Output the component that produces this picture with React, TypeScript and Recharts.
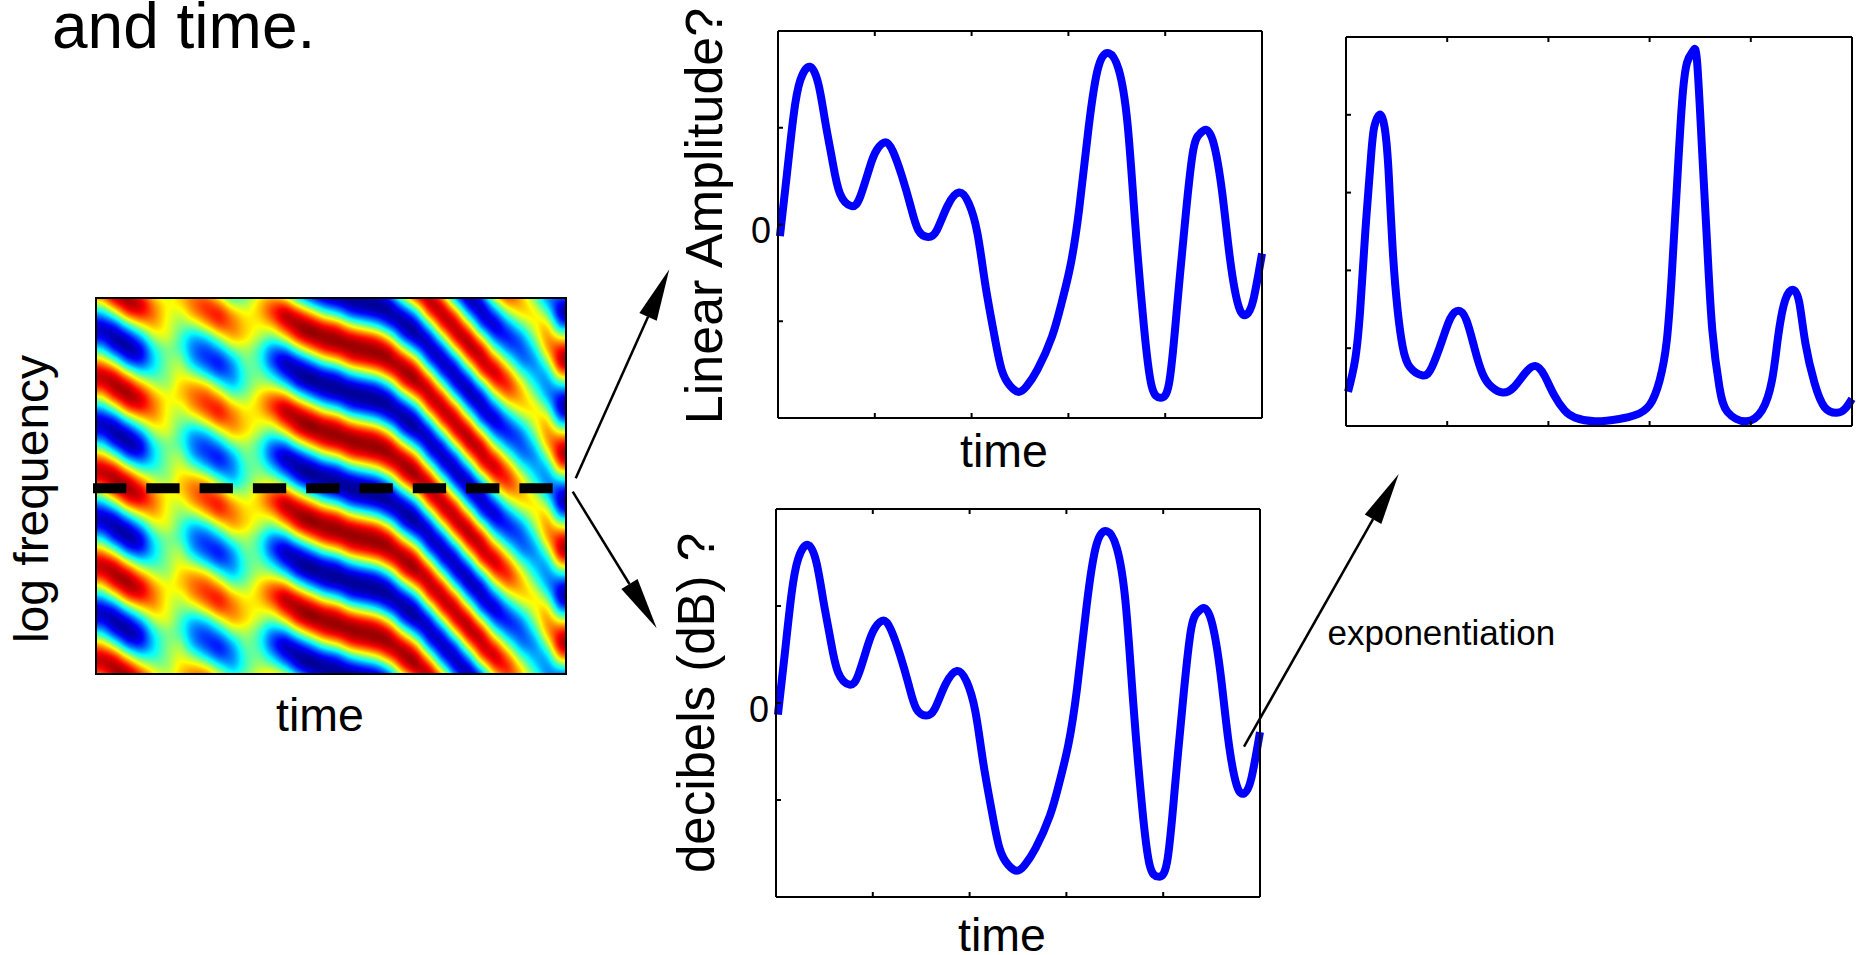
import React from 'react';
import { LineChart, Line, XAxis, YAxis, ScatterChart, Scatter } from 'recharts';

const FONT = '"Liberation Sans", Arial, sans-serif';
const BLUE = '#0000ff';

// Heatmap: one vertical period of the pattern, 8 rows x 36 time columns (scale -10..10)
const heatRow0 = [2,7,10,8,4,2,3,5,6,4,0,0,3,5,5,0,-4,-7,-8,-10,-10,-10,-8,-2,4,10,7,-2,-9,-8,0,5,4,1,-4,-7];
const heatRow1 = [-4,0,6,7,5,2,1,4,6,7,4,2,3,6,9,7,4,0,-2,-6,-7,-8,-10,-8,-4,6,10,6,-4,-10,-6,0,3,3,0,-9];
const heatRow2 = [-8,-7,-2,2,4,2,0,0,3,6,5,3,2,3,7,10,9,7,6,2,0,-2,-6,-10,-9,-2,7,10,4,-6,-9,-5,-1,2,4,-5];
const heatRow3 = [-7,-10,-8,-4,1,2,-1,-4,-3,1,4,3,1,-1,2,7,9,10,10,8,7,6,2,-6,-9,-8,0,8,9,2,-6,-7,-5,0,5,2];
const heatRow4 = [-2,-7,-10,-8,-2,0,-1,-5,-6,-4,0,1,-1,-5,-5,0,4,7,8,10,10,10,8,2,-4,-10,-7,2,9,8,0,-5,-6,-3,4,7];
const heatRow5 = [4,0,-6,-7,-3,0,1,-4,-6,-7,-4,0,-1,-6,-9,-7,-4,0,2,6,7,8,10,8,4,-6,-10,-6,4,10,6,0,-5,-5,0,9];
const heatRow6 = [8,7,2,-2,-2,0,2,0,-3,-6,-5,-1,0,-3,-7,-10,-9,-7,-6,-2,0,2,6,10,9,2,-7,-10,-4,6,9,5,-1,-4,-4,5];
const heatRow7 = [7,10,8,4,1,0,3,4,3,-1,-4,-1,1,1,-2,-7,-9,-10,-10,-8,-7,-6,-2,6,9,8,0,-8,-9,-2,6,7,3,-2,-5,-2];
const heatRows = [heatRow0, heatRow1, heatRow2, heatRow3, heatRow4, heatRow5, heatRow6, heatRow7];

// Time slice, linear / dB (same curve in both panels)
const sliceTime = [0.02,0.09,0.16,0.23,0.33,0.42,0.49,0.56,0.64,0.76,0.85,0.95,1.02,1.11,1.19,1.28,1.37,1.45,1.55,1.64,1.75,1.87,1.97,2.06,2.14,2.23,2.31,2.4,2.49,2.57,2.68,2.83,2.93,3.02,3.11,3.21,3.31,3.42,3.52,3.61,3.69,3.78,3.86,3.95,4.04,4.12,4.21,4.29,4.36,4.42,4.5,4.59,4.67,4.76,4.84,4.91,5];
const sliceValue = [-0.12,0.5,1.12,1.49,1.63,1.44,1.05,0.67,0.32,0.19,0.29,0.6,0.77,0.85,0.75,0.5,0.19,-0.06,-0.13,-0.06,0.19,0.33,0.22,-0.09,-0.61,-1.12,-1.5,-1.67,-1.73,-1.67,-1.5,-1.16,-0.81,-0.43,0.15,1.01,1.63,1.77,1.6,1.05,0.01,-1.05,-1.67,-1.79,-1.64,-0.88,0.08,0.77,0.94,0.98,0.84,0.32,-0.36,-0.85,-0.93,-0.78,-0.3];

// Exponentiated slice
const expTime = [0.02,0.09,0.14,0.19,0.25,0.28,0.33,0.38,0.42,0.46,0.51,0.56,0.63,0.76,0.85,0.95,1.03,1.11,1.19,1.27,1.35,1.44,1.55,1.66,1.77,1.87,1.96,2.06,2.16,2.26,2.46,2.7,2.86,3,3.1,3.17,3.22,3.27,3.32,3.37,3.43,3.47,3.52,3.57,3.62,3.69,3.77,3.95,4.11,4.21,4.27,4.34,4.42,4.48,4.54,4.63,4.73,4.85,4.93,5];
const expValue = [0.44,0.85,1.49,2.48,3.51,3.85,4,3.85,3.29,2.3,1.49,1.02,0.76,0.65,0.76,1.1,1.38,1.48,1.36,1,0.67,0.5,0.43,0.5,0.68,0.77,0.65,0.39,0.2,0.11,0.06,0.09,0.14,0.27,0.59,1.1,1.96,3.08,4.15,4.67,4.82,4.67,3.51,2.3,1.23,0.5,0.18,0.06,0.2,0.59,1.15,1.62,1.75,1.58,1.06,0.55,0.24,0.17,0.22,0.35];

const timeTicks = [0, 1, 2, 3, 4, 5];
const sliceTicks = [-2, -1, 0, 1, 2];
const expTicks = [0, 1, 2, 3, 4, 5];

const dashTime = [0, 0.97];
const dashLevel = [0.494, 0.494];

const sliceData = sliceTime.map((t, i) => ({ t, v: sliceValue[i] }));
const expData = expTime.map((t, i) => ({ t, v: expValue[i] }));
const dashData = dashTime.map((t, i) => ({ t, v: dashLevel[i] }));

const COLS = heatRows[0].length;
const ROWS = 32;
const PAD_C = 2;
const PAD_R = 2;
const heatData: { col: number; row: number; value: number }[] = [];
for (let r = -PAD_R; r < ROWS + PAD_R; r++) {
  for (let c = -PAD_C; c < COLS + PAD_C; c++) {
    const src = heatRows[((r % 8) + 8) % 8];
    heatData.push({ col: c, row: r, value: src[Math.max(0, Math.min(COLS - 1, c))] });
  }
}

const HEAT_X = 95, HEAT_Y = 297, HEAT_W = 472, HEAT_H = 378;
const CELL_W = HEAT_W / COLS, CELL_H = HEAT_H / ROWS;

function HeatCell(p: any) {
  const g = Math.max(0, Math.min(255, Math.round(255 * (0.5 + p.payload.value / 17.5))));
  return (
    <rect x={p.cx - CELL_W / 2 - 0.5} y={p.cy - CELL_H / 2 - 0.5} width={CELL_W + 1} height={CELL_H + 1}
      fill={`rgb(${g},${g},${g})`} />
  );
}

function Heatmap() {
  return (
    <div style={{ position: 'absolute', left: HEAT_X, top: HEAT_Y, width: HEAT_W, height: HEAT_H, overflow: 'hidden' }}>
      <div style={{ position: 'absolute', left: -PAD_C * CELL_W, top: -PAD_R * CELL_H, filter: 'url(#jetmap)' }}>
        <ScatterChart width={(COLS + 2 * PAD_C) * CELL_W} height={(ROWS + 2 * PAD_R) * CELL_H}
          margin={{ top: 0, right: 0, bottom: 0, left: 0 }}>
          <XAxis type="number" dataKey="col" domain={[-PAD_C - 0.5, COLS + PAD_C - 0.5]} hide />
          <YAxis type="number" dataKey="row" domain={[-PAD_R - 0.5, ROWS + PAD_R - 0.5]} reversed hide />
          <Scatter data={heatData} shape={HeatCell} isAnimationActive={false} />
        </ScatterChart>
      </div>
      <div style={{ position: 'absolute', left: 0, top: 0, width: HEAT_W, height: HEAT_H, boxSizing: 'border-box', border: '2px solid #000' }} />
    </div>
  );
}

function DashLine() {
  return (
    <div style={{ position: 'absolute', left: 93.3, top: HEAT_Y }}>
      <LineChart width={474} height={HEAT_H} data={dashData} margin={{ top: 0, right: 0, bottom: 0, left: 0 }}>
        <XAxis type="number" dataKey="t" domain={[0, 1]} hide />
        <YAxis type="number" domain={[0, 1]} hide />
        <Line dataKey="v" stroke="#000" strokeWidth={10} strokeDasharray="33.3 20" dot={false} isAnimationActive={false} />
      </LineChart>
    </div>
  );
}

const PM = 14;
const PL = 44;
const NoTick = () => <g />;
function Plot({ x, y, w, h, data, yDomain, yTicks, zeroLabel }: any) {
  const ZeroTick = (p: any) =>
    zeroLabel && p.payload.value === 0 ? (
      <text x={PL - 7} y={p.y + 18.5} textAnchor="end" fontFamily={FONT} fontSize={36} fill="#000">0</text>
    ) : <g />;
  return (
    <div style={{ position: 'absolute', left: x - PL, top: y - PM }}>
      <LineChart width={w + PL + PM} height={h + 2 * PM} data={data}
        margin={{ top: PM - 1, right: PM - 1, bottom: PM - 1, left: PL - 1 }}>
        <XAxis xAxisId="b" type="number" dataKey="t" domain={[0, 5]} ticks={timeTicks} orientation="bottom" height={1}
          tick={NoTick} tickSize={-5} stroke="#000" strokeWidth={2} interval={0} />
        <XAxis xAxisId="t" type="number" dataKey="t" domain={[0, 5]} ticks={timeTicks} orientation="top" height={1}
          tick={NoTick} tickSize={-5} stroke="#000" strokeWidth={2} interval={0} />
        <YAxis yAxisId="l" type="number" domain={yDomain} ticks={yTicks} orientation="left" width={1}
          tick={ZeroTick} tickSize={-5} stroke="#000" strokeWidth={2} interval={0} />
        <YAxis yAxisId="r" type="number" domain={yDomain} ticks={yTicks} orientation="right" width={1}
          tick={NoTick} tickSize={-5} stroke="#000" strokeWidth={2} interval={0} />
        <Line xAxisId="b" yAxisId="l" dataKey="v" type="natural" stroke={BLUE} strokeWidth={8} dot={false}
          strokeLinecap="butt" isAnimationActive={false} />
      </LineChart>
    </div>
  );
}

function Arrow({ x1, y1, x2, y2, len = 52, wid = 19 }: any) {
  const d = Math.hypot(x2 - x1, y2 - y1);
  const ux = (x2 - x1) / d, uy = (y2 - y1) / d;
  const bx = x2 - ux * len, by = y2 - uy * len;
  const pts = `${x2},${y2} ${bx - uy * wid / 2},${by + ux * wid / 2} ${bx + uy * wid / 2},${by - ux * wid / 2}`;
  return (
    <g>
      <line x1={x1} y1={y1} x2={bx} y2={by} stroke="#000" strokeWidth={2.5} />
      <polygon points={pts} fill="#000" />
    </g>
  );
}

function Overlay() {
  const t = { fontFamily: FONT, fill: '#000' };
  return (
    <svg width={1864} height={955} style={{ position: 'absolute', left: 0, top: 0 }}>
      <text x={52} y={48} fontSize={64} {...t}>and time.</text>
      <text transform="translate(47.5,499) rotate(-90)" textAnchor="middle" fontSize={48} {...t}>log frequency</text>
      <text x={320} y={731} textAnchor="middle" fontSize={46.5} {...t}>time</text>
      <text x={1004} y={467} textAnchor="middle" fontSize={46.5} {...t}>time</text>
      <text x={1002} y={950.5} textAnchor="middle" fontSize={46.5} {...t}>time</text>
      <text transform="translate(722,216) rotate(-90)" textAnchor="middle" fontSize={52} {...t}>Linear Amplitude?</text>
      <text transform="translate(713.5,703) rotate(-90)" textAnchor="middle" fontSize={51} {...t}>decibels (dB) ?</text>
      <text x={1327.5} y={645} fontSize={35} {...t}>exponentiation</text>
      <Arrow x1={575.7} y1={478.3} x2={669.3} y2={269.3} />
      <Arrow x1={572.7} y1={491.7} x2={656.7} y2={628.3} />
      <Arrow x1={1244} y1={746.7} x2={1398.7} y2={474} />
    </svg>
  );
}

export default function App() {
  return (
    <div style={{ position: 'absolute', left: 0, top: 0, width: 1864, height: 955, overflow: 'hidden', background: '#fff' }}>
      <svg width={0} height={0} style={{ position: 'absolute' }}>
        <defs>
          <filter id="jetmap" x="0" y="0" width="100%" height="100%" colorInterpolationFilters="sRGB">
            <feGaussianBlur stdDeviation={6} />
            <feComponentTransfer>
              <feFuncR type="table" tableValues="0 0 0 0 0.5 1 1 1 0.5" />
              <feFuncG type="table" tableValues="0 0 0.5 1 1 1 0.5 0 0" />
              <feFuncB type="table" tableValues="0.5 1 1 1 0.5 0 0 0 0" />
            </feComponentTransfer>
          </filter>
        </defs>
      </svg>
      <Heatmap />
      <DashLine />
      <Plot x={778} y={31} w={484} h={387} data={sliceData} yDomain={[-2, 2]} yTicks={sliceTicks} zeroLabel />
      <Plot x={776} y={509} w={484} h={388} data={sliceData} yDomain={[-2, 2]} yTicks={sliceTicks} zeroLabel />
      <Plot x={1346} y={37} w={506} h={389} data={expData} yDomain={[0, 5]} yTicks={expTicks} />
      <Overlay />
    </div>
  );
}
